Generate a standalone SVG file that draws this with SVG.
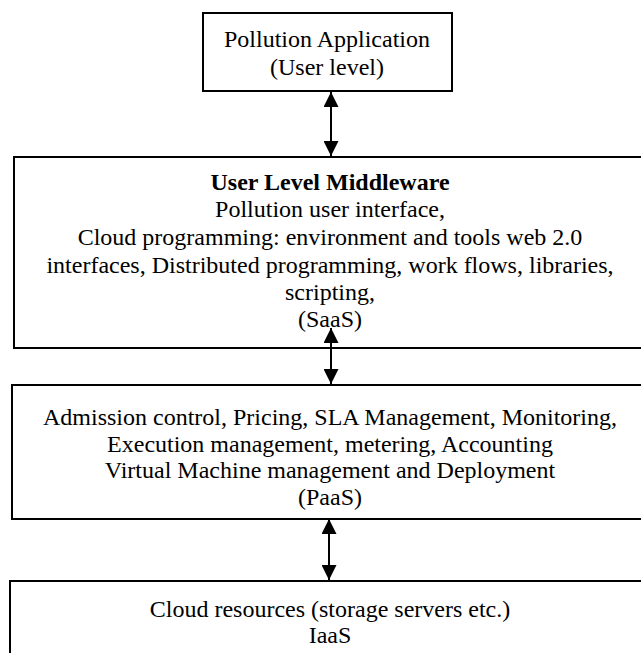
<svg xmlns="http://www.w3.org/2000/svg" width="641" height="653" viewBox="0 0 641 653">
<style>
.box{fill:#fff;stroke:#000;stroke-width:2}
text{font-family:"Liberation Serif","Times New Roman",serif;font-size:24px;fill:#000;text-anchor:middle}
.b{font-weight:bold}
.conn{stroke:#000;stroke-width:2;fill:none;marker-start:url(#ah);marker-end:url(#ah)}
</style>
<defs>
<marker id="ah" viewBox="0 0 10 10" refX="10" refY="5" markerUnits="userSpaceOnUse" markerWidth="15" markerHeight="15" orient="auto-start-reverse">
<path d="M0,0 L10,5 L0,10 z" fill="#000"/>
</marker>
</defs>
<rect width="641" height="653" fill="#fff"/>
<g id="app">
<rect class="box" x="203" y="13" width="249" height="78"/>
<text x="327" y="47">Pollution Application</text>
<text x="327" y="75">(User level)</text>
</g>
<g id="middleware">
<rect class="box" x="14" y="157" width="640" height="191"/>
<text class="b" x="330" y="190">User Level Middleware</text>
<text x="330" y="217">Pollution user interface,</text>
<text x="330" y="245">Cloud programming: environment and tools web 2.0</text>
<text x="330" y="273">interfaces, Distributed programming, work flows, libraries,</text>
<text x="330" y="300">scripting,</text>
<text x="330" y="327">(SaaS)</text>
</g>
<g id="paas">
<rect class="box" x="12" y="385" width="640" height="134"/>
<text x="330" y="425">Admission control, Pricing, SLA Management, Monitoring,</text>
<text x="330" y="452">Execution management, metering, Accounting</text>
<text x="330" y="478">Virtual Machine management and Deployment</text>
<text x="330" y="505">(PaaS)</text>
</g>
<g id="iaas">
<rect class="box" x="10" y="581" width="640" height="100"/>
<text x="330" y="617">Cloud resources (storage servers etc.)</text>
<text x="330" y="643">IaaS</text>
</g>
<g id="connectors">
<line class="conn" x1="331" y1="92" x2="331" y2="156"/>
<line class="conn" x1="331" y1="328" x2="331" y2="384"/>
<line class="conn" x1="329" y1="519" x2="329" y2="580"/>
</g>
</svg>
